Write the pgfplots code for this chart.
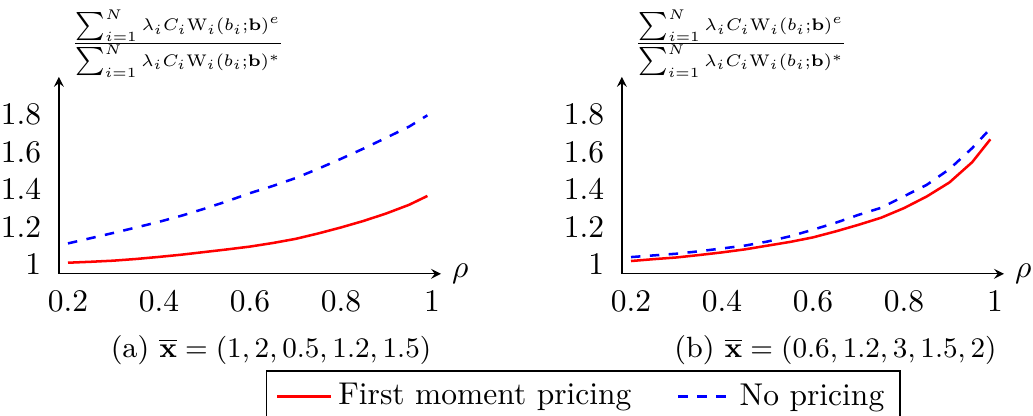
\documentclass[border=0pt]{standalone}
\usepackage{pgfplots}
\pgfplotsset{compat=1.18}
\pgfplotsset{rhoplot/.style={
  scale only axis, width=121.3pt, height=62.5pt,
  axis lines=left,
  xmin=0.18, xmax=1.02, ymin=0.95, ymax=2.0,
  xtick={0.2,0.4,0.6,0.8,1}, ytick={1,1.2,1.4,1.6,1.8},
  tick style={draw=none},
  clip=false,
  xlabel={$\rho$},
  every axis x label/.style={at={(axis description cs:1,0)},anchor=west},
  every axis y label/.style={at={(axis description cs:0,1)},anchor=south west,
    xshift=1pt,yshift=-3.3pt,font=\footnotesize,scale=0.89,transform shape},
  ylabel={$\frac{\sum_{i=1}^N \lambda_i C_i \mathrm{W}_i(b_i;\mathbf{b})^e}{\sum_{i=1}^N \lambda_i C_i \mathrm{W}_i(b_i;\mathbf{b})^*}$},
}}
\begin{document}
\begin{tikzpicture}
\begin{axis}[rhoplot,
  legend columns=2,
  legend style={at={(1.372,-0.49)},anchor=north,
    /tikz/every even column/.append style={column sep=12.5pt}}]
\addplot[red,thick] coordinates {
  (0.2,1.009) (0.25,1.014) (0.3,1.020) (0.35,1.029) (0.4,1.040)
  (0.45,1.052) (0.5,1.066) (0.55,1.080) (0.6,1.095) (0.65,1.114)
  (0.7,1.136) (0.75,1.165) (0.8,1.197) (0.85,1.232) (0.9,1.272)
  (0.95,1.318) (0.99,1.365)
};
\addlegendentry{First moment pricing}
\addplot[blue,thick,dashed] coordinates {
  (0.2,1.112) (0.25,1.140) (0.3,1.168) (0.35,1.197) (0.4,1.227)
  (0.45,1.260) (0.5,1.297) (0.55,1.337) (0.6,1.380) (0.65,1.418)
  (0.7,1.460) (0.75,1.510) (0.8,1.563) (0.85,1.618) (0.9,1.676)
  (0.95,1.735) (0.99,1.795)
};
\addlegendentry{No pricing}
\node[font=\fontsize{9.3}{11}\selectfont] at (rel axis cs:0.555,-0.389) {(a) $\overline{\mathbf{x}} = (1,2,0.5,1.2,1.5)$};
\end{axis}
\begin{axis}[rhoplot, at={(178.7pt,0)}]
\addplot[red,thick] coordinates {
  (0.2,1.018) (0.25,1.028) (0.3,1.037) (0.35,1.050) (0.4,1.064)
  (0.45,1.080) (0.5,1.100) (0.55,1.120) (0.6,1.144) (0.65,1.176)
  (0.7,1.211) (0.75,1.249) (0.8,1.300) (0.85,1.362) (0.9,1.437)
  (0.95,1.545) (0.99,1.667)
};
\addplot[blue,thick,dashed] coordinates {
  (0.2,1.039) (0.25,1.048) (0.3,1.057) (0.35,1.070) (0.4,1.085)
  (0.45,1.100) (0.5,1.122) (0.55,1.150) (0.6,1.185) (0.65,1.222)
  (0.7,1.264) (0.75,1.302) (0.8,1.363) (0.85,1.424) (0.9,1.508)
  (0.95,1.620) (0.99,1.724)
};
\node[font=\fontsize{9.3}{11}\selectfont] at (rel axis cs:0.559,-0.389) {(b) $\overline{\mathbf{x}} = (0.6,1.2,3,1.5,2)$};
\end{axis}
\pgfresetboundingbox
\useasboundingbox (-18.7pt,-45.0pt) rectangle (309.2pt,86.9pt);
\end{tikzpicture}
\end{document}
